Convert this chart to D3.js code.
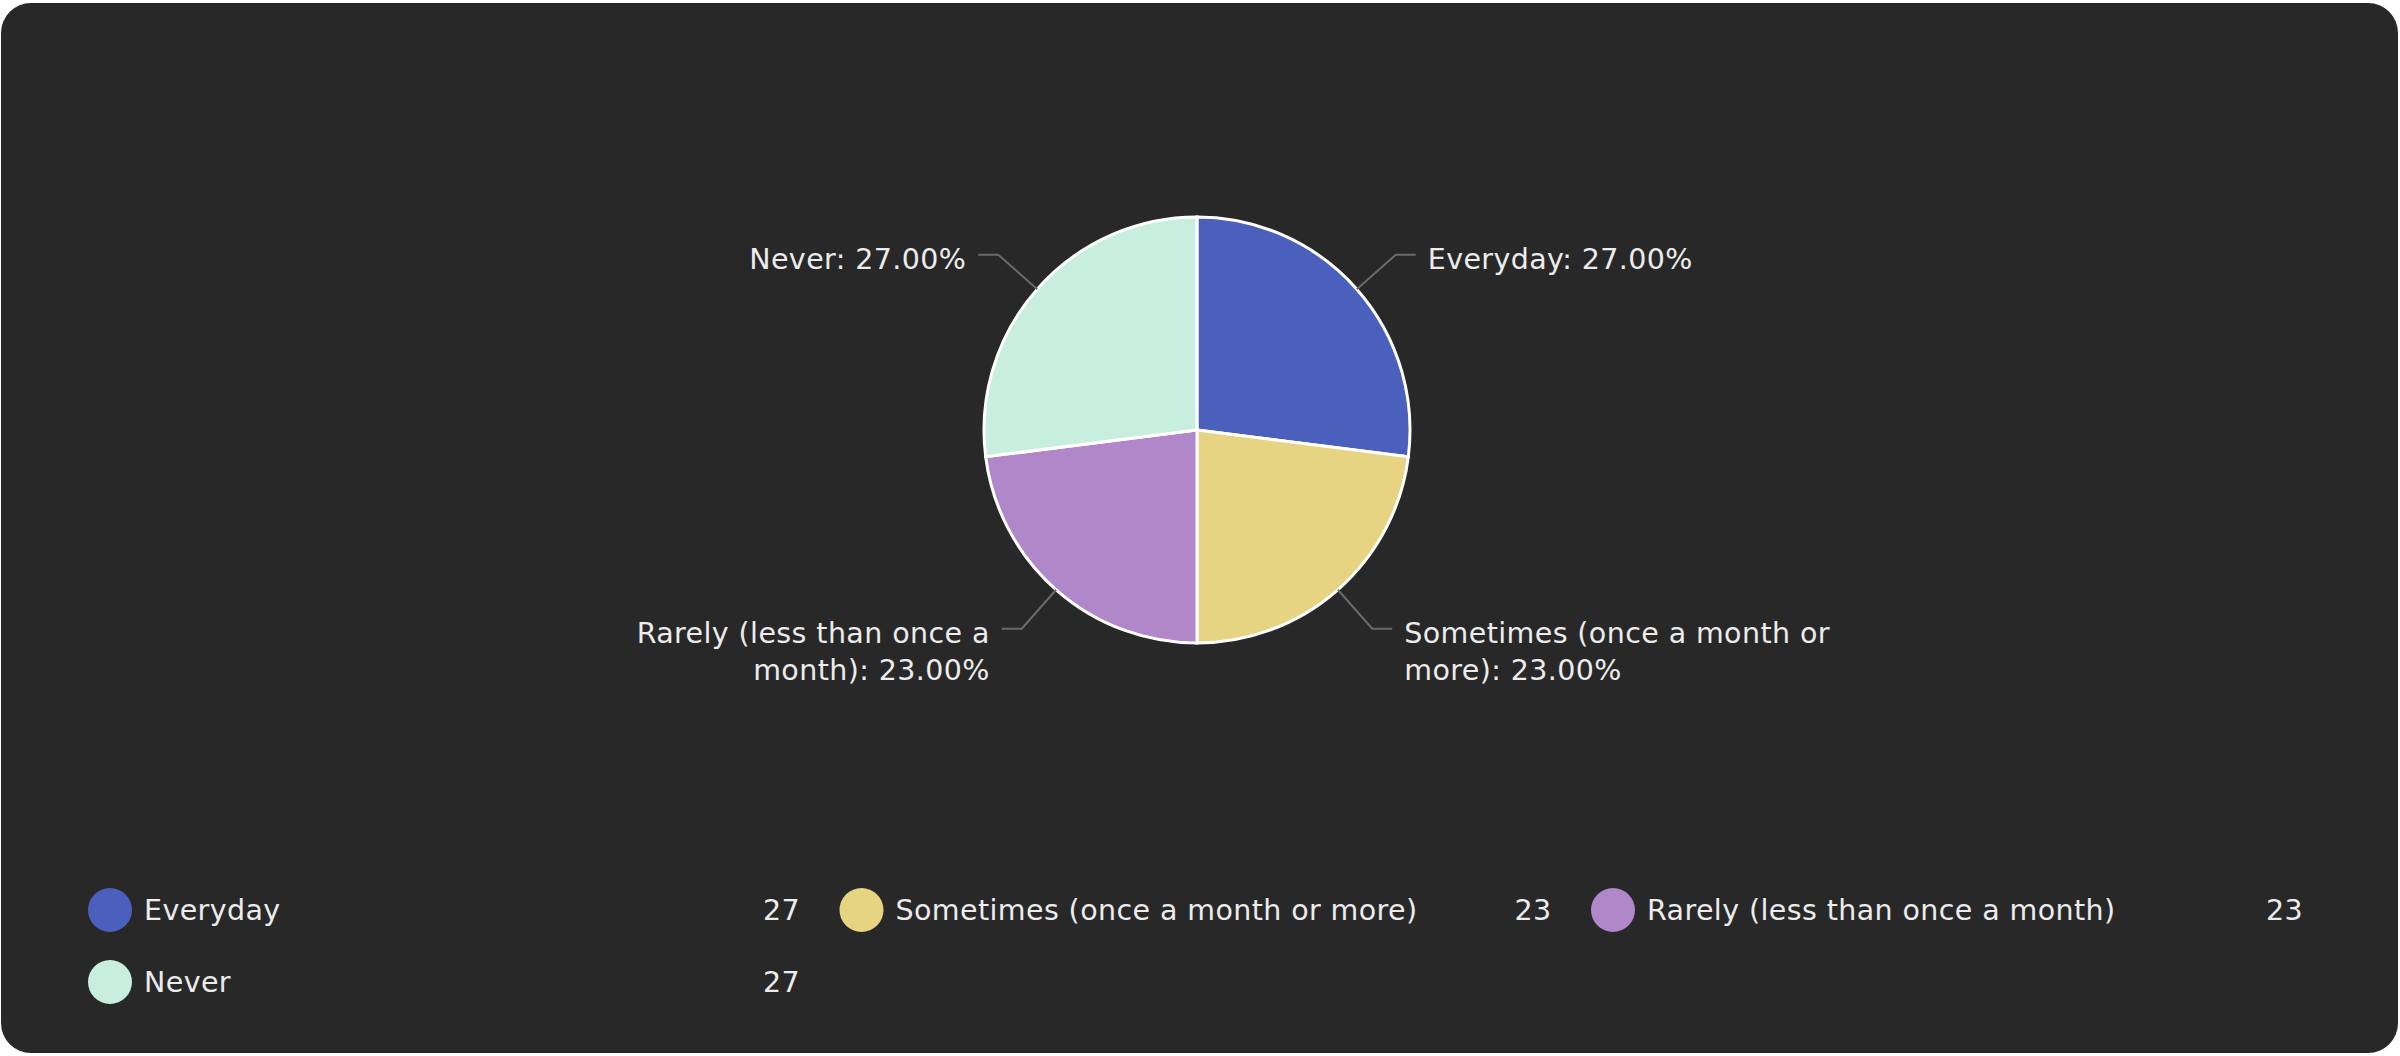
<!DOCTYPE html>
<html>
<head>
<meta charset="utf-8">
<script src="https://cdn.jsdelivr.net/npm/d3@7"></script>
<style>
    html, body { margin: 0; padding: 0; background: #ffffff; }
    svg { display: block; }
    text { font-family: "DejaVu Sans", Verdana, sans-serif; font-size: 28.5px; letter-spacing: 0.4px; fill: #ececec; }
</style>
</head>
<body>
<script>
var categories = ["Everyday", "Sometimes (once a month or more)", "Rarely (less than once a month)", "Never"];
var counts = [27, 23, 23, 27];
var colors = ["#4b60bd", "#e6d483", "#b087c8", "#c8eee0"];

(function () {
    var width = 2400;
    var height = 1056;
    var cx = 1197, cy = 430;
    var radius = 213;
    var elbowRadius = 265;
    var total = d3.sum(counts);

    var data = categories.map(function (c, i) {
        return { name: c, value: counts[i], color: colors[i] };
    });

    var svg = d3.select("body").append("svg")
        .attr("width", width)
        .attr("height", height);

    svg.append("rect")
        .attr("x", 1).attr("y", 3)
        .attr("width", width - 3).attr("height", height - 6)
        .attr("rx", 30).attr("ry", 30)
        .attr("fill", "#282828");

    var pie = d3.pie().sort(null).value(function (d) { return d.value; });
    var arc = d3.arc().innerRadius(0).outerRadius(radius);
    var arcs = pie(data);

    var g = svg.append("g").attr("transform", "translate(" + cx + "," + cy + ")");

    g.selectAll("path.slice")
        .data(arcs)
        .enter().append("path")
        .attr("class", "slice")
        .attr("d", arc)
        .attr("fill", function (d) { return d.data.color; })
        .attr("stroke", "#ffffff")
        .attr("stroke-width", 3);

    function point(a, r) {
        return [Math.sin(a) * r, -Math.cos(a) * r];
    }

    // leader lines and labels
    arcs.forEach(function (d) {
        var mid = (d.startAngle + d.endAngle) / 2;
        var right = mid < Math.PI;
        var p0 = point(mid, radius);
        var p1 = point(mid, elbowRadius);
        var p2 = [p1[0] + (right ? 20 : -20), p1[1]];

        g.append("polyline")
            .attr("points", [p0, p1, p2].map(function (p) { return p.join(","); }).join(" "))
            .attr("fill", "none")
            .attr("stroke", "#6a6a6a")
            .attr("stroke-width", 2);

        var label = d.data.name + ": " + (d.data.value / total * 100).toFixed(2) + "%";
        var t = g.append("text")
            .attr("text-anchor", right ? "start" : "end");
        wrap(t, label, 445, p2[0] + (right ? 12 : -12), p2[1] + 4);
    });

    function wrap(t, str, maxWidth, x, y) {
        var words = str.split(" ");
        var lines = [];
        var line = [];
        var probe = t.append("tspan");
        words.forEach(function (w) {
            line.push(w);
            probe.text(line.join(" "));
            if (probe.node().getComputedTextLength() > maxWidth && line.length > 1) {
                line.pop();
                lines.push(line.join(" "));
                line = [w];
            }
        });
        lines.push(line.join(" "));
        probe.remove();
        lines.forEach(function (l, i) {
            t.append("tspan")
                .attr("x", x)
                .attr("y", y + i * 37)
                .attr("dy", "0.35em")
                .text(l);
        });
    }

    // legend
    var colWidth = 751.5;
    var legend = svg.append("g");
    var items = legend.selectAll("g.item")
        .data(data)
        .enter().append("g")
        .attr("class", "item")
        .attr("transform", function (d, i) {
            var col = i % 3, row = Math.floor(i / 3);
            return "translate(" + (110 + col * colWidth) + "," + (910 + row * 72) + ")";
        });

    items.append("circle")
        .attr("r", 22)
        .attr("fill", function (d) { return d.color; });

    items.append("text")
        .attr("x", 34)
        .attr("dy", "0.35em")
        .text(function (d) { return d.name; });

    items.append("text")
        .attr("x", 690)
        .attr("dy", "0.35em")
        .attr("text-anchor", "end")
        .text(function (d) { return d.value; });
})();
</script>
</body>
</html>
